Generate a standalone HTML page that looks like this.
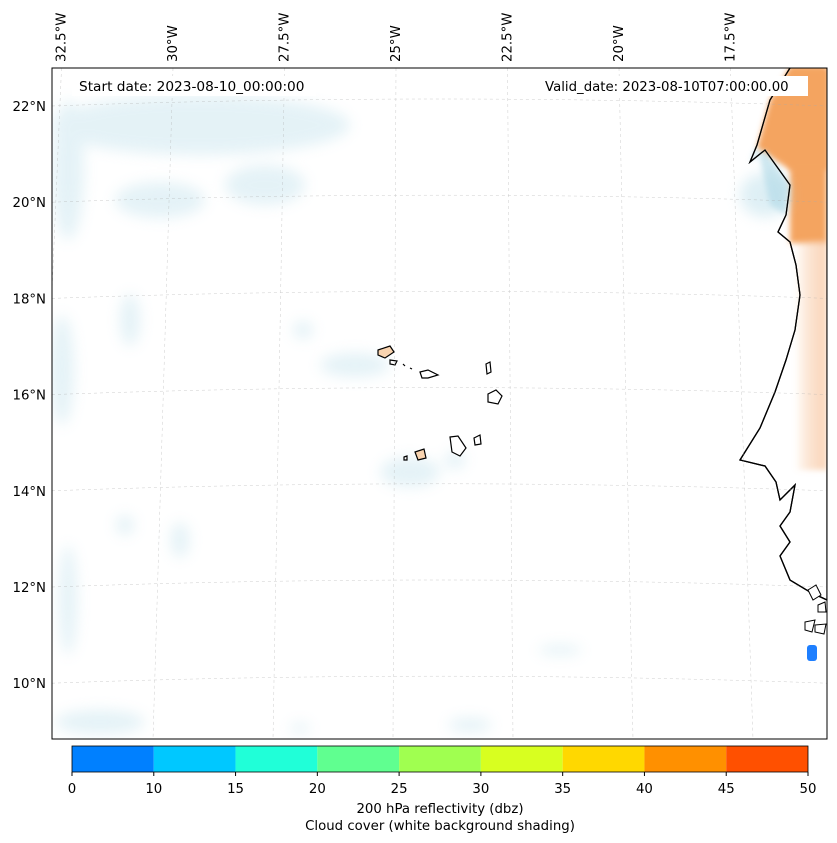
<!DOCTYPE html>
<html><head><meta charset="utf-8"><style>
body{margin:0;background:#fff;font-family:"DejaVu Sans","Liberation Sans",sans-serif}
svg{display:block}
</style></head><body>
<svg id="s" width="837" height="843" viewBox="0 0 837 843" xmlns="http://www.w3.org/2000/svg">
<defs>
<filter id="blur" x="-50%" y="-50%" width="200%" height="200%"><feGaussianBlur stdDeviation="7"/></filter>
<filter id="blur2" x="-50%" y="-50%" width="200%" height="200%"><feGaussianBlur stdDeviation="3"/></filter>
<clipPath id="clip"><rect x="52" y="68" width="775" height="671"/></clipPath>
<linearGradient id="og" x1="0" x2="1"><stop offset="0" stop-color="#f4a460" stop-opacity="0"/><stop offset="0.5" stop-color="#f6b888" stop-opacity="0.4"/><stop offset="1" stop-color="#f6b888" stop-opacity="0.6"/></linearGradient>
</defs>
<g clip-path="url(#clip)">
<rect x="52" y="68" width="775" height="671" fill="#fff"/>
<g id="clouds" fill="#add8e6" opacity="0.32" filter="url(#blur)">
<ellipse cx="200" cy="125" rx="150" ry="30"/>
<ellipse cx="68" cy="170" rx="16" ry="70"/>
<ellipse cx="160" cy="200" rx="45" ry="18"/>
<ellipse cx="265" cy="185" rx="40" ry="20"/>
<ellipse cx="62" cy="370" rx="12" ry="55"/>
<ellipse cx="130" cy="320" rx="10" ry="26"/>
<ellipse cx="355" cy="365" rx="35" ry="12"/>
<ellipse cx="303" cy="330" rx="10" ry="9"/>
<ellipse cx="410" cy="472" rx="30" ry="15"/>
<ellipse cx="455" cy="460" rx="10" ry="9"/>
<ellipse cx="180" cy="540" rx="9" ry="18"/>
<ellipse cx="125" cy="525" rx="9" ry="10"/>
<ellipse cx="68" cy="600" rx="9" ry="55"/>
<ellipse cx="100" cy="722" rx="45" ry="12"/>
<ellipse cx="470" cy="725" rx="22" ry="7"/>
<ellipse cx="560" cy="650" rx="22" ry="5"/>
<ellipse cx="300" cy="728" rx="10" ry="5"/>
</g>
<path d="M790,68 L770,100 L757,145 L750,162 L765,150 L790,185 L786,215 L778,232 L790,242 L796,265 L800,295 L795,330 L786,360 L775,392 L760,428 L740,460 L765,466 L776,482 L780,500 L795,485 L790,512 L780,526 L790,542 L780,556 L790,580 L810,592 L827,600 L827,68 Z" fill="#fff" stroke="#000" stroke-width="1.3"/>
<rect x="790" y="68" width="37" height="175" fill="#f4a460" filter="url(#blur2)"/>
<path d="M757,148 L790,170 L827,170 L827,68 L790,68 L770,100 Z" fill="#f4a460" filter="url(#blur2)"/>
<rect x="795" y="240" width="32" height="230" fill="url(#og)" filter="url(#blur2)"/>
<path d="M757,145 L750,162 L765,150 L790,185 L786,215 L770,205 Z" fill="#add8e6" opacity="0.6" filter="url(#blur2)"/>
<ellipse cx="765" cy="195" rx="25" ry="22" fill="#add8e6" opacity="0.4" filter="url(#blur)"/>
<path d="M790,68 L770,100 L757,145 L750,162 L765,150 L790,185 L786,215 L778,232 L790,242 L796,265 L800,295 L795,330 L786,360 L775,392 L760,428 L740,460 L765,466 L776,482 L780,500 L795,485 L790,512 L780,526 L790,542 L780,556 L790,580 L810,592 L827,600" fill="none" stroke="#000" stroke-width="1.3"/>
<g fill="#fff" stroke="#000" stroke-width="1.2">
<path d="M378,350 L390,346 L394,352 L385,358 L378,355 Z" fill="#f9d4b0"/>
<path d="M390,360 L397,361 L395,365 L390,364 Z"/>
<path d="M420,372 L428,370 L438,375 L428,378 L422,378 Z"/>
<path d="M486,364 L490,362 L491,372 L487,374 Z"/>
<path d="M488,394 L496,390 L502,396 L498,404 L488,402 Z"/>
<path d="M450,437 L458,436 L466,448 L460,456 L452,452 Z"/>
<path d="M474,438 L480,435 L481,444 L475,445 Z"/>
<path d="M415,452 L424,449 L426,458 L418,460 Z" fill="#f9d4b0"/>
<path d="M404,457 L407,456 L407,460 L404,460 Z"/>
<path d="M403,364 L405,366 M410,368 L412,369"/>
</g>
<path d="M808,590 L816,585 L821,595 L813,600Z M818,605 L825,602 L826,612 L818,612 Z M805,622 L815,620 L812,632 L805,630 Z M815,625 L826,624 L824,634 L815,632 Z" fill="#fff" stroke="#000" stroke-width="1"/>
<rect x="807" y="645" width="10" height="16" rx="3" fill="#1e7fff"/>
<g id="grid" stroke="#aaa" stroke-width="0.5" stroke-dasharray="3,3" fill="none" opacity="0.6"></g>
</g>
<rect x="52" y="68" width="775" height="671" fill="none" stroke="#000" stroke-width="1"/>
<rect x="72" y="76" width="244" height="20" fill="#fff"/>
<text x="79" y="91" font-size="13.7">Start date: 2023-08-10_00:00:00</text>
<rect x="538" y="76" width="270" height="20" fill="#fff"/>
<text x="545" y="91" font-size="13.3">Valid_date: 2023-08-10T07:00:00.00</text>
<g id="labels" font-size="13.3"></g>
<g id="cbar"></g>
<text x="440" y="813" font-size="13.3" text-anchor="middle">200 hPa reflectivity (dbz)</text>
<text x="440" y="830" font-size="13.3" text-anchor="middle">Cloud cover (white background shading)</text>
</svg>
<script>
const ns="http://www.w3.org/2000/svg";
const lonLabels=["32.5°W","30°W","27.5°W","25°W","22.5°W","20°W","17.5°W"];
const lonValues=[-32.5,-30,-27.5,-25,-22.5,-20,-17.5];
const latLabels=["22°N","20°N","18°N","16°N","14°N","12°N","10°N"];
const latValues=[22,20,18,16,14,12,10];
const cbarBounds=[0,10,15,20,25,30,35,40,45,50];
const cbarColors=["#0080ff","#00c8ff","#20ffd8","#60ff90","#a0ff50","#d8ff20","#ffd800","#ff9000","#ff5000"];
const cbarTicks=[0,10,15,20,25,30,35,40,45,50];
function lonTopX(l){return 396+(l+25)*44.6;}
function lonBotX(l){return 393+(l+25)*48;}
function latY(v){return 106+(22-v)*48.1;}
const g=document.getElementById('grid'),L=document.getElementById('labels'),C=document.getElementById('cbar');
lonValues.forEach((l,i)=>{
 const ln=document.createElementNS(ns,'line');
 ln.setAttribute('x1',lonTopX(l));ln.setAttribute('y1',68);ln.setAttribute('x2',lonBotX(l));ln.setAttribute('y2',739);
 
 
 g.appendChild(ln);
 const t=document.createElementNS(ns,'text');
 const x=lonTopX(l)+4;
 t.setAttribute('transform',`translate(${x},62) rotate(-90)`);t.textContent=lonLabels[i];
 
 
 L.appendChild(t);
});
latValues.forEach((v,i)=>{
 const y=latY(v);
 const p=document.createElementNS(ns,'path');
 p.setAttribute('d',`M52,${y} Q440,${y-14} 827,${y}`);
 
 
 g.appendChild(p);
 const t=document.createElementNS(ns,'text');
 t.setAttribute('x',46);t.setAttribute('y',y+5);t.setAttribute('text-anchor','end');t.textContent=latLabels[i];
 
 
 L.appendChild(t);
});
function cx(v){
 let i=cbarBounds.findIndex((b,k)=>k<cbarBounds.length-1&&v>=b&&v<=cbarBounds[k+1]);
 if(i<0)i=0;
 const f=(v-cbarBounds[i])/(cbarBounds[i+1]-cbarBounds[i]);
 return 72+(i+f)*736/(cbarBounds.length-1);
}
cbarColors.forEach((c,i)=>{
 const r=document.createElementNS(ns,'rect');
 r.setAttribute('x',cx(cbarBounds[i]));r.setAttribute('y',746);r.setAttribute('width',cx(cbarBounds[i+1])-cx(cbarBounds[i]));r.setAttribute('height',26);r.setAttribute('fill',c);
 
 
 C.appendChild(r);
});
const fr=document.createElementNS(ns,'rect');
fr.setAttribute('x',72);fr.setAttribute('y',746);fr.setAttribute('width',736);fr.setAttribute('height',26);fr.setAttribute('fill','none');fr.setAttribute('stroke','#000');fr.setAttribute('stroke-width','0.8');


C.appendChild(fr);
cbarTicks.forEach(v=>{
 const x=cx(v);
 const tk=document.createElementNS(ns,'line');
 tk.setAttribute('x1',x);tk.setAttribute('x2',x);tk.setAttribute('y1',772);tk.setAttribute('y2',776);tk.setAttribute('stroke','#000');
 
 
 C.appendChild(tk);
 const t=document.createElementNS(ns,'text');
 t.setAttribute('x',x);t.setAttribute('y',793);t.setAttribute('text-anchor','middle');t.setAttribute('font-size','13.3');t.textContent=v;
 
 
 C.appendChild(t);
});
</script>
</body></html>
